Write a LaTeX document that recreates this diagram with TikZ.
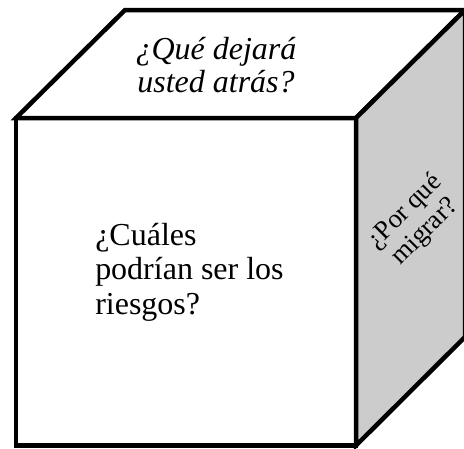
\documentclass[tikz,border=0pt]{standalone}
\usepackage{fontspec}
\setmainfont{Liberation Serif}
\begin{document}
\begin{tikzpicture}[x=1pt,y=-1pt,line width=4.5pt,line join=miter]
\useasboundingbox (0,0) rectangle (464,448);
% Flaechen
\draw (16,118) -- (125,10) -- (465,10) -- (356,118) -- cycle;
\draw[fill=black!20] (356,118) -- (465,10) -- (465,337) -- (356,445.5) -- cycle;
\draw (16,118) rectangle (356,445.5);
% Beschriftungen
\node[align=center,anchor=base,font=\fontsize{32}{32.4}\selectfont\itshape] (oben) at (216,92) {¿Qué dejará\\ usted atrás?};
\node[align=left,anchor=base west,inner sep=0pt,font=\fontsize{32}{34.5}\selectfont] (vorne) at (93,314) {¿Cuáles\\ podrían ser los\\ riesgos?};
\node[align=center,rotate=45,inner sep=1pt,font=\fontsize{26.5}{28.5}\selectfont] (rechts) at (415,222) {¿Por qué\\ migrar?};
\end{tikzpicture}
\end{document}
